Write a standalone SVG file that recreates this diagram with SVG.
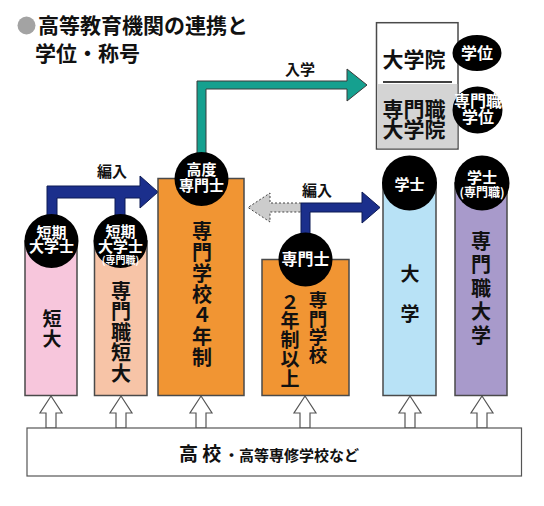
<svg xmlns="http://www.w3.org/2000/svg" width="544" height="506" viewBox="0 0 544 506">
<style>
text{font-family:"Noto Sans CJK JP","Noto Sans CJK SC",sans-serif;font-weight:bold;}
.col{stroke:#4a4a4a;stroke-width:1.5}
.badge{fill:#000}
.w{fill:#fff;text-anchor:middle}
.k{fill:#111;text-anchor:middle}
.v{fill:#111;writing-mode:vertical-rl;text-anchor:start}
.up{fill:#fff;stroke:#555;stroke-width:1.2}
.lbl{fill:#111;font-size:15px}
</style>
<defs>
<path id="up" d="M0,0 L11,17 L5,17 L5,32 L-5,32 L-5,17 L-11,17 Z"/>
</defs>
<rect width="544" height="506" fill="#fff"/>

<g id="title">
<circle cx="26.5" cy="25.5" r="9" fill="#a3a3a3"/>
<text font-size="21" fill="#111"><tspan x="38" y="33">高等教育機関の連携と</tspan><tspan x="35" y="61">学位・称号</tspan></text>
</g>

<g id="connectors">
<path d="M197,155 L197,81 L347,81 L347,69 L367,85 L347,101 L347,89 L206,89 L206,155 Z" fill="#15a08f" stroke="#3a3a3a" stroke-width="1"/>
<text class="lbl" x="285" y="75">入学</text>
<path d="M47,218 L47,186 L140,186 L140,176 L158,192 L140,208 L140,198 L125,198 L125,218 L115,218 L115,198 L57,198 L57,218 Z" fill="#1b2f8c" stroke="#0d1a55" stroke-width="1"/>
<text class="lbl" x="97" y="177">編入</text>
<path d="M301,203 L270,203 L270,193 L248,207.5 L270,222 L270,212 L301,212" fill="#cccccc" stroke="#444" stroke-width="1" stroke-dasharray="2,2"/>
<path d="M301,236 L301,203 L362,203 L362,192 L380,207.5 L362,223 L362,212 L310,212 L310,236 Z" fill="#1b2f8c" stroke="#0d1a55" stroke-width="1"/>
<text class="lbl" x="302" y="196">編入</text>
<use href="#up" class="up" x="51" y="396"/>
<use href="#up" class="up" x="121" y="396"/>
<use href="#up" class="up" x="201" y="396"/>
<use href="#up" class="up" x="305" y="396"/>
<use href="#up" class="up" x="410" y="396"/>
<use href="#up" class="up" x="482" y="396"/>
</g>

<g id="graduate">
<rect x="376.5" y="22.7" width="81.5" height="126.3" fill="#fff" class="col"/>
<rect x="377.3" y="84" width="80" height="64.3" fill="#d4d4d4"/>
<line x1="383" y1="82" x2="452" y2="82" stroke="#000" stroke-width="1.5"/>
<text class="k" x="414" y="67" font-size="21">大学院</text>
<text class="k" font-size="21"><tspan x="414" y="117">専門職</tspan><tspan x="414" y="137">大学院</tspan></text>
</g>

<g id="degree-master">
<ellipse cx="477" cy="53" rx="24.5" ry="18" class="badge"/>
<text class="w" x="477" y="59" font-size="16">学位</text>
</g>

<g id="degree-prof-master">
<ellipse cx="477.5" cy="110" rx="25" ry="23.5" class="badge"/>
<text class="w" font-size="16"><tspan x="478" y="107">専門職</tspan><tspan x="478" y="123">学位</tspan></text>
</g>

<g id="junior-college">
<rect x="25" y="241" width="52" height="154.5" fill="#f7c6dc" class="col"/>
<circle cx="51.5" cy="241" r="27" class="badge"/>
<text class="w" font-size="15"><tspan x="51.5" y="238">短期</tspan><tspan x="51.5" y="252">大学士</tspan></text>
<text class="v" x="52" y="309" font-size="19" letter-spacing="1">短大</text>
</g>

<g id="prof-junior-college">
<rect x="94.5" y="241" width="52.5" height="154.5" fill="#f7c4a7" class="col"/>
<circle cx="120.5" cy="241" r="27" class="badge"/>
<text class="w" font-size="15"><tspan x="120.5" y="237">短期</tspan><tspan x="120.5" y="252">大学士</tspan><tspan x="120.5" y="264" font-size="10">(専門職)</tspan></text>
<text class="v" x="121" y="281" font-size="20" letter-spacing="0.5">専門職短大</text>
</g>

<g id="vocational-4yr">
<rect x="158" y="178.5" width="86" height="217" fill="#f19533" class="col"/>
<circle cx="201.5" cy="179" r="27" class="badge"/>
<text class="w" font-size="15"><tspan x="201.5" y="175">高度</tspan><tspan x="201.5" y="191">専門士</tspan></text>
<text class="v" x="202" y="221" font-size="20" letter-spacing="1">専門学校４年制</text>
</g>

<g id="vocational-2yr">
<rect x="262" y="259.5" width="87" height="136" fill="#f19533" class="col"/>
<circle cx="305.5" cy="259.5" r="27" class="badge"/>
<text class="w" x="305.5" y="265" font-size="16">専門士</text>
<text class="v" x="318" y="291" font-size="18.5" letter-spacing="-0.2">専門学校</text>
<text class="v" x="290" y="292" font-size="19" letter-spacing="0.25">２年制以上</text>
</g>

<g id="university">
<rect x="383" y="183" width="53" height="212.5" fill="#b8e2f6" class="col"/>
<circle cx="409.5" cy="183" r="27.5" class="badge"/>
<text class="w" x="409.5" y="190" font-size="15">学士</text>
<text class="v" x="410" y="264" font-size="19" letter-spacing="21">大学</text>
</g>

<g id="prof-university">
<rect x="455" y="183" width="52" height="212.5" fill="#a89acb" class="col"/>
<circle cx="482" cy="183" r="27.5" class="badge"/>
<text class="w" font-size="15"><tspan x="482" y="183">学士</tspan><tspan x="482" y="197" font-size="12">(専門職)</tspan></text>
<text class="v" x="481" y="231" font-size="20" letter-spacing="3.6">専門職大学</text>
</g>

<g id="high-school">
<rect x="27" y="428" width="494.5" height="48" fill="#fff" stroke="#555" stroke-width="1.2"/>
<text x="179" y="461" fill="#111"><tspan font-size="19">高 校</tspan><tspan x="224" font-size="15">・高等専修学校など</tspan></text>
</g>
</svg>
